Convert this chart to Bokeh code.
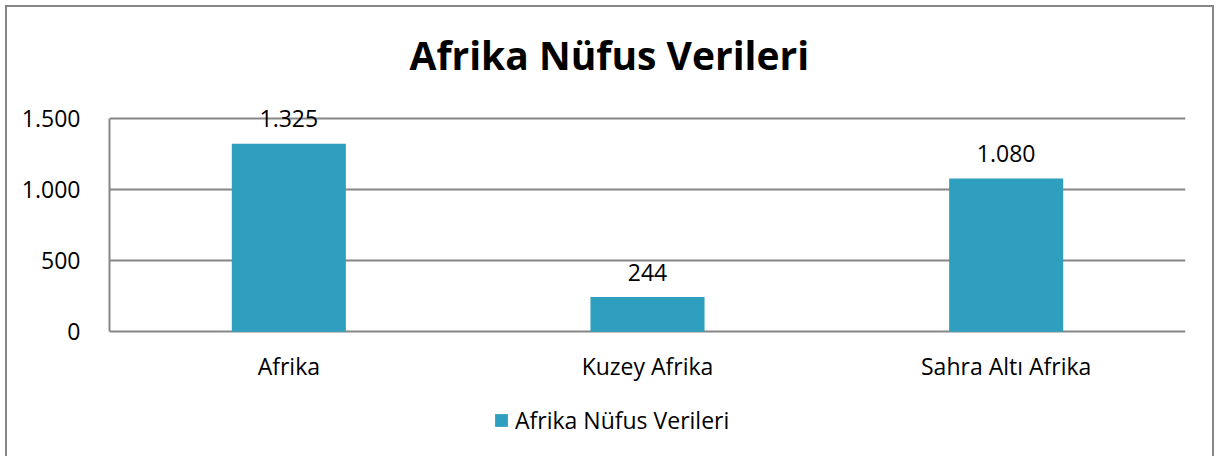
from bokeh.plotting import figure
from bokeh.models import ColumnDataSource, LabelSet, Legend, LegendItem, FixedTicker
from bokeh.core.properties import value
from bokeh.embed import file_html
from bokeh.resources import INLINE

categories = ["Afrika", "Kuzey Afrika", "Sahra Altı Afrika"]
values = [1325, 244, 1080]
series_name = "Afrika Nüfus Verileri"
y_ticks = [0, 500, 1000, 1500]
y_tick_labels = ["0", "500", "1.000", "1.500"]

def fmt(v):
    return f"{v:,}".replace(",", ".")

src = ColumnDataSource(dict(cat=categories, val=values, base=[0] * len(values),
                            lab=[fmt(v) for v in values]))

FONT = "Open Sans"
GRID = "#868686"

p = figure(x_range=categories, y_range=(-880, 1700), frame_width=1076, frame_height=366,
           output_backend="svg", toolbar_location=None,
           min_border_left=102, min_border_right=27, min_border_top=83, min_border_bottom=0)
p.styles = {"border": "2px solid #878787", "border-bottom": "none", "margin": "5px 0 0 5px"}
p.outline_line_color = None
p.background_fill_color = "white"
p.border_fill_color = "white"

r = p.vbar(x="cat", top="val", width=0.318, source=src, fill_color="#2F9FBF", line_color=None)

p.title.text = series_name
p.title.align = "left"
p.title.offset = 300
p.title.text_font = FONT
p.title.text_font_size = "39px"
p.title.text_font_style = "bold"
p.title.text_color = "black"
p.title.standoff = 19

p.xaxis.visible = False
p.xgrid.grid_line_color = None
p.ygrid.grid_line_color = GRID
p.ygrid.grid_line_width = 2
p.yaxis.ticker = FixedTicker(ticks=y_ticks)
p.yaxis.bounds = (y_ticks[0], y_ticks[-1])
p.yaxis.major_label_overrides = {t: l for t, l in zip(y_ticks, y_tick_labels)}
ya = p.yaxis[0]
ya.axis_line_color = GRID
ya.axis_line_width = 2
ya.major_tick_line_color = None
ya.minor_tick_line_color = None
ya.major_label_text_font = FONT
ya.major_label_text_font_size = "23px"
ya.major_label_text_color = "black"
ya.major_label_standoff = 23

labels = LabelSet(x="cat", y="val", text="lab", source=src, y_offset=25,
                  text_align="center", text_baseline="middle",
                  text_font=value(FONT), text_font_size="23px", text_color="black")
p.add_layout(labels)

cat_labels = LabelSet(x="cat", y="base", text="cat", source=src, y_offset=-34,
                      text_align="center", text_baseline="middle",
                      text_font=value(FONT), text_font_size="23px", text_color="black")
p.add_layout(cat_labels)

legend = Legend(items=[LegendItem(label=series_name, renderers=[r])],
                orientation="horizontal", location=(384, 20),
                label_text_font=FONT, label_text_font_size="23px", label_text_color="black",
                glyph_width=16, glyph_height=16, label_standoff=6,
                border_line_color=None, background_fill_alpha=0, margin=0, padding=4)
p.add_layout(legend)

open("out.html", "w").write(file_html(p, INLINE))
